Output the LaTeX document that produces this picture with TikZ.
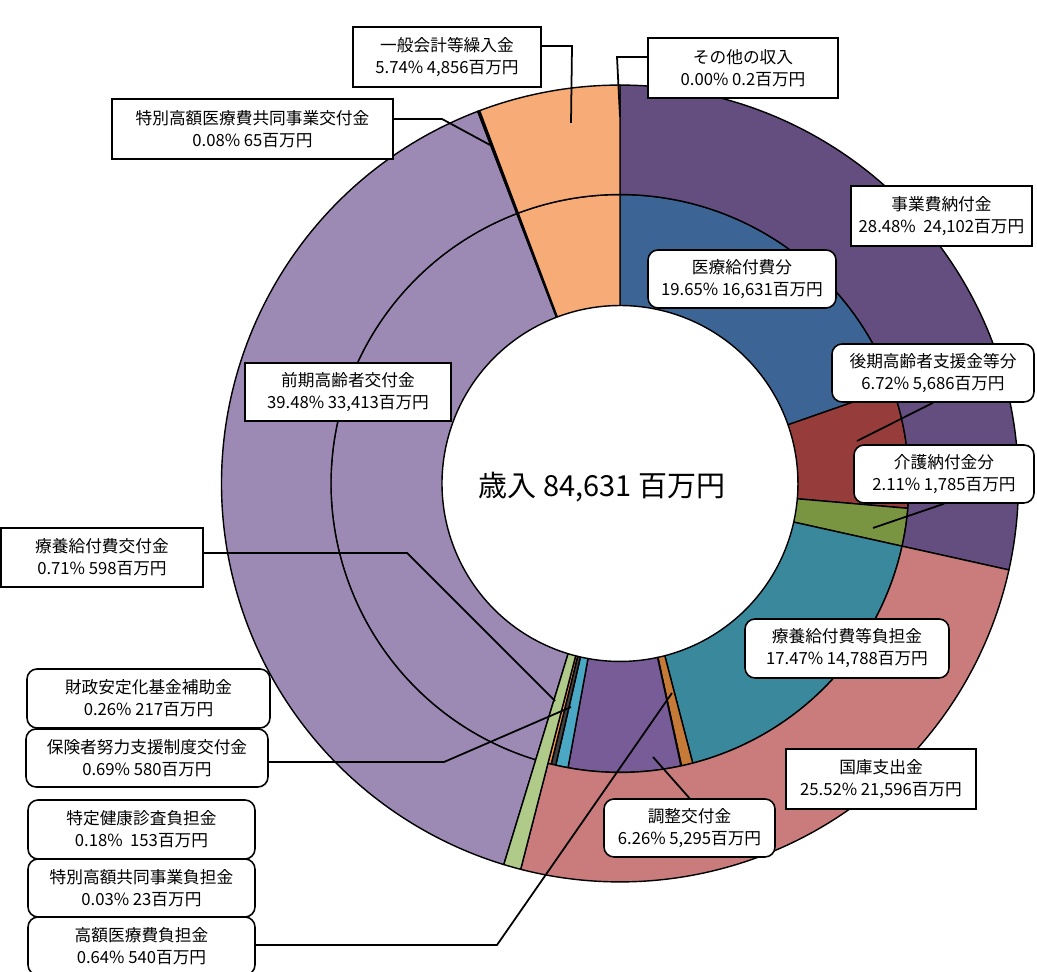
\documentclass[tikz,border=0pt]{standalone}
\usepackage{fontspec}
\setmainfont{Noto Sans CJK JP}
\usepackage{tikz}
\usetikzlibrary{calc}

\definecolor{jigyocol}{HTML}{634E7F}
\definecolor{kokkocol}{HTML}{C97C7B}
\definecolor{ryoyocol}{HTML}{B0CA8A}
\definecolor{zenkicol}{HTML}{9C8AB4}
\definecolor{tokubetsucol}{HTML}{1A1A1A}
\definecolor{ippancol}{HTML}{F7AB77}
\definecolor{iryocol}{HTML}{3C6595}
\definecolor{kokicol}{HTML}{963D3B}
\definecolor{kaigocol}{HTML}{7A9541}
\definecolor{futancol}{HTML}{3A889B}
\definecolor{kogakucol}{HTML}{C67A37}
\definecolor{tokukyocol}{HTML}{7F2F2F}
\definecolor{choseicol}{HTML}{785C98}
\definecolor{hokencol}{HTML}{4AA8C4}
\definecolor{zaiseicol}{HTML}{404040}
\definecolor{tokuteicol}{HTML}{F79646}

\tikzset{
  slice/.style={draw=black, line width=0.8pt, line join=round},
  sqbox/.style={draw=black, line width=1.4pt, fill=white, align=center,
    inner sep=0pt, font=\fontsize{9.5pt}{12.5pt}\selectfont},
  rdbox/.style={sqbox, line width=0.9pt, rounded corners=0.2cm},
  leader/.style={draw=black, line width=1pt}
}

\begin{document}
\begin{tikzpicture}[x=0.02cm, y=0.02cm]
\useasboundingbox (0,0) rectangle (1037,972);

% double ring, angles clockwise from the top (radii 178, 289, 398.5 px)
\begin{scope}[shift={(620,488.5)}]
  \foreach \a/\b/\c in {0/70.74/iryocol, 70.74/94.93/kokicol, 94.93/102.53/kaigocol,
      102.53/165.42/futancol, 165.42/167.72/kogakucol, 167.72/167.83/tokukyocol,
      167.83/190.37/choseicol, 190.37/192.85/hokencol, 192.85/193.79/zaiseicol,
      193.79/194.44/tokuteicol, 196.96/339.08/zenkicol, 339.08/339.37/tokubetsucol,
      339.37/360/ippancol}
    \filldraw[slice, fill=\c] ({90-\a}:3.56cm) arc[start angle={90-\a}, end angle={90-\b}, radius=3.56cm]
      -- ({90-\b}:5.78cm) arc[start angle={90-\b}, end angle={90-\a}, radius=5.78cm] -- cycle;
  \foreach \a/\b/\c in {0/102.53/jigyocol, 102.53/194.44/kokkocol, 196.96/339.08/zenkicol,
      339.08/339.37/tokubetsucol, 339.37/360/ippancol}
    \filldraw[slice, fill=\c] ({90-\a}:5.78cm) arc[start angle={90-\a}, end angle={90-\b}, radius=5.78cm]
      -- ({90-\b}:7.97cm) arc[start angle={90-\b}, end angle={90-\a}, radius=7.97cm] -- cycle;
  \filldraw[slice, fill=ryoyocol] ({90-194.44}:3.56cm) arc[start angle={90-194.44}, end angle={90-196.96}, radius=3.56cm]
    -- ({90-196.96}:7.97cm) arc[start angle={90-196.96}, end angle={90-194.44}, radius=7.97cm] -- cycle;
\end{scope}

\node[font=\fontsize{16.5pt}{19pt}\selectfont] (total) at (602,485) {歳入 84,631 百万円};

% labels
\node[sqbox, minimum width=3.76cm, minimum height=1.2cm] (ippan) at (447,915) {一般会計等繰入金\\5.74\% 4,856百万円};
\node[sqbox, minimum width=3.8cm, minimum height=1.2cm] (sonota) at (743,904) {その他の収入\\0.00\% 0.2百万円};
\node[sqbox, minimum width=5.62cm, minimum height=1.2cm] (tokubetsu) at (252.5,843) {特別高額医療費共同事業交付金\\0.08\% 65百万円};
\node[sqbox, minimum width=3.62cm, minimum height=1.2cm] (jigyo) at (941.5,756) {事業費納付金\\28.48\% \ 24,102百万円};
\node[sqbox, minimum width=4.12cm, minimum height=1.16cm] (zenki) at (348,580) {前期高齢者交付金\\39.48\% 33,413百万円};
\node[sqbox, minimum width=4.04cm, minimum height=1.18cm] (ryoyo) at (102,414.5) {療養給付費交付金\\0.71\% 598百万円};
\node[sqbox, minimum width=3.8cm, minimum height=1.2cm] (kokko) at (881,193) {国庫支出金\\25.52\% 21,596百万円};

\node[rdbox, minimum width=3.76cm, minimum height=1.16cm] (iryo) at (742,693) {医療給付費分\\19.65\% 16,631百万円};
\node[rdbox, minimum width=4.04cm, minimum height=1.16cm] (koki) at (933,599) {後期高齢者支援金等分\\6.72\% 5,686百万円};
\node[rdbox, minimum width=3.6cm, minimum height=1.16cm] (kaigo) at (944,498) {介護納付金分\\2.11\% 1,785百万円};
\node[rdbox, minimum width=4.08cm, minimum height=1.18cm] (futan) at (847,323.5) {療養給付費等負担金\\17.47\% 14,788百万円};
\node[rdbox, minimum width=3.42cm, minimum height=1.16cm] (chosei) at (689.5,144) {調整交付金\\6.26\% 5,295百万円};
\node[rdbox, minimum width=4.86cm, minimum height=1.18cm] (zaisei) at (148.5,273.5) {財政安定化基金補助金\\0.26\% 217百万円};
\node[rdbox, minimum width=4.84cm, minimum height=1.16cm] (hoken) at (147,214) {保険者努力支援制度交付金\\0.69\% 580百万円};
\node[rdbox, minimum width=4.54cm, minimum height=1.18cm] (tokutei) at (141.5,142.5) {特定健康診査負担金\\0.18\% \ 153百万円};
\node[rdbox, minimum width=4.54cm, minimum height=1.16cm] (tokukyo) at (141.5,84) {特別高額共同事業負担金\\0.03\% 23百万円};
\node[rdbox, minimum width=4.54cm, minimum height=1.16cm] (kogaku) at (141.5,26) {高額医療費負担金\\0.64\% 540百万円};

% leader lines
\coordinate (ippanbend) at (572,926);
\coordinate (ippanend) at (571,849);
\coordinate (sonotabend) at (617,915);
\coordinate (sonotaend) at (620,855);
\coordinate (tokubetsubend) at (442,853);
\coordinate (tokubetsuend) at (490,827);
\coordinate (kokiend) at (857,531);
\coordinate (kaigoend) at (873,444);
\coordinate (choseiend) at (653,215);
\coordinate (ryoyobend) at (407,419);
\coordinate (ryoyoend) at (555,271);
\coordinate (hokenbend) at (444,210);
\coordinate (hokenend) at (571,265);
\coordinate (kogakubend) at (497,27);
\coordinate (kogakuend) at (672,279);

\draw[leader] (ippanbend -| ippan.east) -- (ippanbend) -- (ippanend);
\draw[leader] (sonotabend -| sonota.west) -- (sonotabend) -- (sonotaend);
\draw[leader] (tokubetsubend -| tokubetsu.east) -- (tokubetsubend) -- (tokubetsuend);
\draw[leader] (koki.south) -- (kokiend);
\draw[leader] (kaigo.south) -- (kaigoend);
\draw[leader] (chosei.north) -- (choseiend);
\draw[leader] (ryoyobend -| ryoyo.east) -- (ryoyobend) -- (ryoyoend);
\draw[leader] (hokenbend -| hoken.east) -- (hokenbend) -- (hokenend);
\draw[leader] (kogakubend -| kogaku.east) -- (kogakubend) -- (kogakuend);
\end{tikzpicture}
\end{document}
